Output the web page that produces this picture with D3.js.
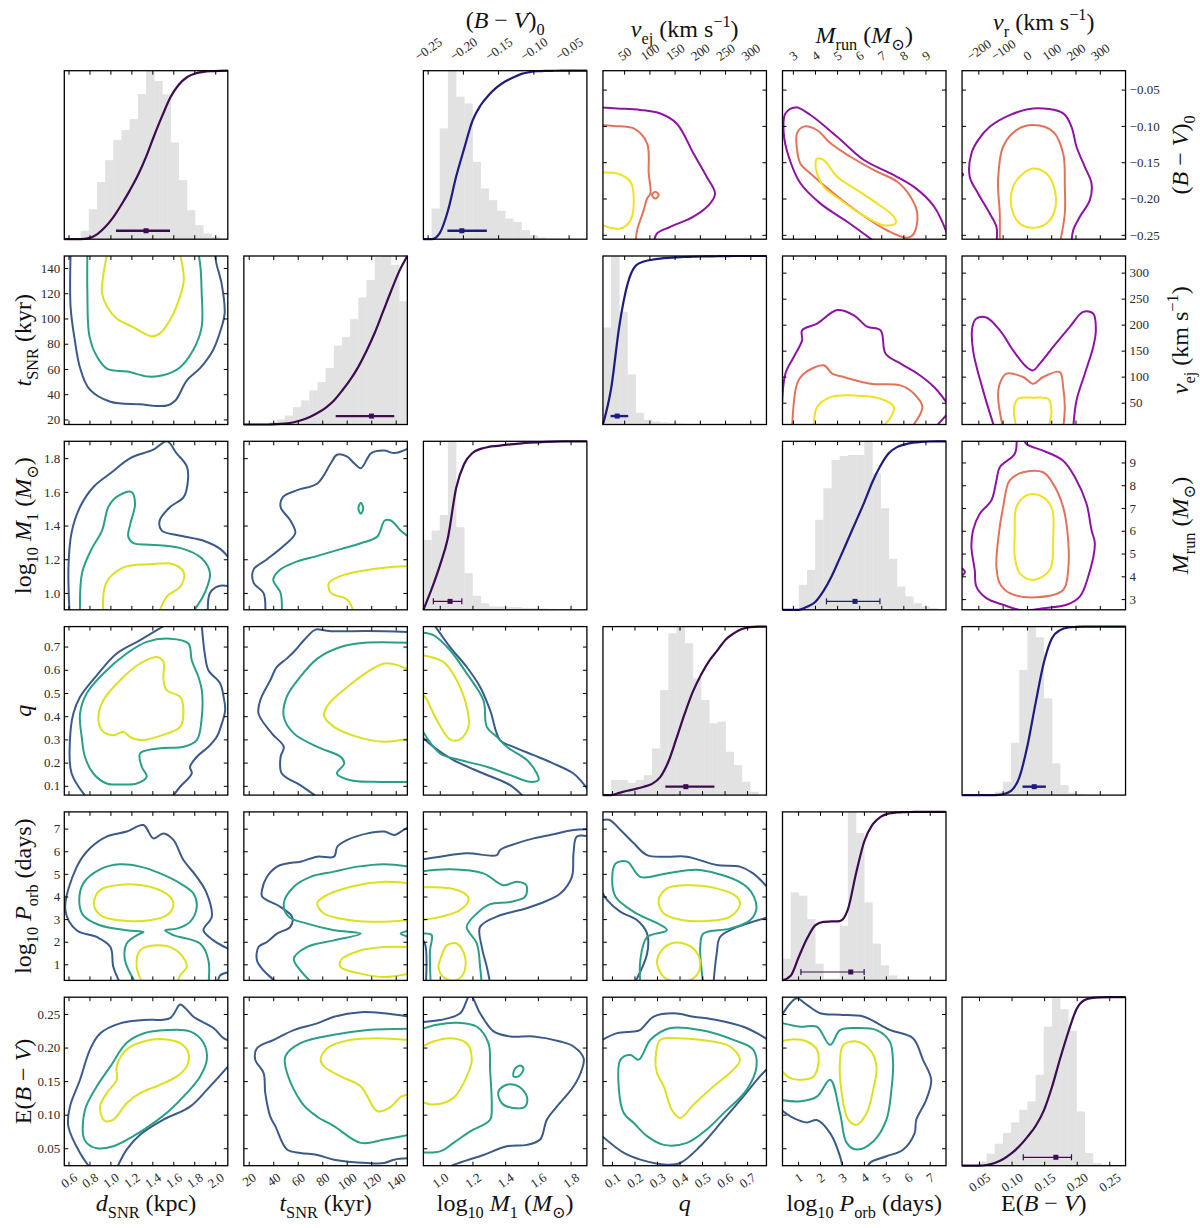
<!DOCTYPE html>
<html>
<head>
<meta charset="utf-8">
<script src="https://cdn.jsdelivr.net/npm/d3@7"></script>
<style>
  body { margin: 0; background: #fff; }
  svg { font-family: 'Liberation Serif', 'DejaVu Serif', serif; }
</style>
</head>
<body>
<svg id="corner" width="1200" height="1228"></svg>
<script>
// variables: 0 dSNR, 1 tSNR, 2 log M1, 3 q, 4 log Porb, 5 E(B-V), 6 (B-V)0, 7 v_ej, 8 M_run, 9 v_r
const domains = [[0.56, 2.12], [16, 149.5], [0.9, 1.9], [0.06, 0.786], [0.29, 7.74], [0.024, 0.275],
  [-0.256, -0.024], [8, 332], [2.53, 9.93], [-267, 406]]

const ticksD = [0.6, 0.8, 1.0, 1.2, 1.4, 1.6, 1.8, 2.0]
const ticksT = [20, 40, 60, 80, 100, 120, 140]
const ticksM = [1.0, 1.2, 1.4, 1.6, 1.8]
const ticksQ = [0.1, 0.2, 0.3, 0.4, 0.5, 0.6, 0.7]
const ticksP = [1, 2, 3, 4, 5, 6, 7]
const ticksE = [0.05, 0.10, 0.15, 0.20, 0.25]
const ticksBV = [-0.25, -0.20, -0.15, -0.10, -0.05]
const ticksVej = [50, 100, 150, 200, 250, 300]
const ticksMrun = [3, 4, 5, 6, 7, 8, 9]
const ticksVr = [-200, -100, 0, 100, 200, 300]
const tickLists = [ticksD, ticksT, ticksM, ticksQ, ticksP, ticksE, ticksBV, ticksVej, ticksMrun, ticksVr]
const tickFormats = ['.1f', 'd', '.1f', '.1f', 'd', '.2f', '.2f', 'd', 'd', 'd']

// axis label pieces: [text, kind] kind: '' normal, 'i' italic, 'sub', 'sup'
const labelD = [['d', 'i'], ['SNR', 'sub'], [' (kpc)', '']]
const labelT = [['t', 'i'], ['SNR', 'sub'], [' (kyr)', '']]
const labelM = [['log', ''], ['10', 'sub'], [' ', ''], ['M', 'i'], ['1', 'sub'], [' (', ''], ['M', 'i'], ['⊙', 'sub'], [')', '']]
const labelQ = [['q', 'i']]
const labelP = [['log', ''], ['10', 'sub'], [' ', ''], ['P', 'i'], ['orb', 'sub'], [' (days)', '']]
const labelE = [['E(', ''], ['B', 'i'], [' − ', ''], ['V', 'i'], [')', '']]
const labelBV = [['(', ''], ['B', 'i'], [' − ', ''], ['V', 'i'], [')', ''], ['0', 'sub']]
const labelVej = [['v', 'i'], ['ej', 'sub'], [' (km s', ''], ['−1', 'sup'], [')', '']]
const labelMrun = [['M', 'i'], ['run', 'sub'], [' (', ''], ['M', 'i'], ['⊙', 'sub'], [')', '']]
const labelVr = [['v', 'i'], ['r', 'sub'], [' (km s', ''], ['−1', 'sup'], [')', '']]
const labels = [labelD, labelT, labelM, labelQ, labelP, labelE, labelBV, labelVej, labelMrun, labelVr]

// histogram counts (20 bins spanning each axis range)
const histD = [0, 0, 25, 90, 171, 237, 297, 327, 360, 435, 505, 474, 434, 290, 177, 87, 42, 17, 7, 2]
const histT = [0, 0, 0, 7, 15, 27, 52, 72, 102, 127, 169, 236, 262, 315, 380, 432, 500, 504, 477, 369]
const histM = [210, 238, 285, 506, 248, 110, 42, 20, 10, 10, 8, 8, 6, 5, 4, 3, 2, 1, 0, 0]
const histQ = [0, 45, 45, 37, 45, 60, 140, 315, 485, 505, 455, 350, 285, 215, 220, 130, 90, 40, 10, 0]
const histP = [65, 263, 253, 183, 50, 5, 5, 163, 503, 440, 233, 110, 45, 15, 5, 2, 1, 0, 0, 0]
const histE = [0, 0, 13, 36, 66, 98, 130, 168, 193, 273, 418, 506, 470, 405, 163, 38, 8, 3, 0, 0]
const histBV = [0, 92, 332, 505, 427, 407, 232, 152, 117, 85, 62, 52, 27, 12, 5, 2, 1, 0, 0, 0]
const histVej = [290, 504, 337, 150, 34, 14, 9, 6, 4, 3, 2, 2, 1, 1, 1, 1, 0, 0, 0, 0]
const histMrun = [0, 0, 75, 120, 270, 365, 450, 462, 465, 465, 506, 410, 305, 153, 70, 40, 20, 10, 5, 0]
const histVr = [0, 0, 0, 0, 10, 40, 157, 375, 505, 473, 290, 95, 30, 7, 3, 1, 0, 0, 0, 0]

// median and 68% interval [lo, mid, hi]
const errD = [1.053, 1.34, 1.569]
const errT = [91, 120.2, 138.8]
const errM = [0.961, 1.063, 1.135]
const errQ = [0.337, 0.428, 0.555]
const errP = [1.13, 3.40, 4.01]
const errE = [0.118, 0.168, 0.192]
const errBV = [-0.222, -0.2015, -0.166]
const errVej = [23.1, 36.3, 58]
const errMrun = [4.52, 5.81, 6.94]
const errVr = [-18, 30, 78]

// contour lines: [level (0 outer,1 middle,2 inner), closed, points [x, y]]
const cont_1_0 = [
  [0, 0, [[0.62, 152], [0.62, 109], [0.66, 83], [0.71, 61], [0.80, 44], [1.0, 34], [1.28, 32], [1.54, 31], [1.62, 35], [1.73, 51], [1.86, 61], [1.98, 75], [2.06, 93], [2.09, 104], [2.06, 128], [2.01, 144], [2.0, 152]]],
  [1, 0, [[0.78, 152], [0.78, 122], [0.80, 86], [0.87, 70], [0.97, 60], [1.16, 58], [1.36, 54], [1.5, 55], [1.66, 61], [1.79, 75], [1.87, 93], [1.87, 122], [1.86, 140], [1.84, 152]]],
  [2, 0, [[0.97, 152], [0.93, 133], [0.92, 120], [0.97, 109], [1.06, 100], [1.22, 93], [1.39, 86], [1.47, 88], [1.57, 99], [1.65, 114], [1.70, 130], [1.68, 145], [1.66, 152]]]
]
const cont_2_0 = [
  [0, 0, [[0.61, 0.88], [0.60, 1.16], [0.63, 1.36], [0.71, 1.51], [0.84, 1.63], [1.0, 1.71], [1.19, 1.80], [1.41, 1.85], [1.54, 1.90], [1.63, 1.83], [1.73, 1.75], [1.74, 1.67], [1.70, 1.57], [1.57, 1.51], [1.47, 1.43], [1.49, 1.37], [1.67, 1.34], [1.89, 1.31], [2.05, 1.26], [2.14, 1.2]]],
  [0, 0, [[1.93, 0.88], [1.95, 1.0], [2.03, 1.04], [2.14, 1.04]]],
  [1, 0, [[0.71, 0.88], [0.73, 1.12], [0.82, 1.26], [0.92, 1.37], [0.98, 1.51], [1.06, 1.57], [1.2, 1.60], [1.235, 1.53], [1.19, 1.41], [1.17, 1.335], [1.22, 1.295], [1.38, 1.286], [1.67, 1.266], [1.87, 1.206], [1.95, 1.118], [1.90, 1.0], [1.78, 0.88]]],
  [2, 0, [[0.93, 0.88], [0.96, 1.06], [1.12, 1.15], [1.38, 1.17], [1.6, 1.17], [1.70, 1.12], [1.67, 1.04], [1.54, 0.98], [1.46, 0.88]]]
]
const cont_2_1 = [
  [0, 0, [[33.5, 0.88], [32, 1.0], [24, 1.06], [24, 1.14], [35, 1.2], [48.6, 1.28], [58, 1.355], [54, 1.43], [46, 1.51], [48, 1.57], [59.5, 1.61], [76, 1.65], [87, 1.77], [92, 1.82], [100, 1.81], [106, 1.77], [111.5, 1.74], [117, 1.8], [120, 1.83], [130.6, 1.845], [139, 1.83], [151, 1.86]]],
  [1, 0, [[47, 0.88], [46, 1.0], [40, 1.08], [46, 1.14], [57, 1.18], [76, 1.22], [95, 1.26], [111.5, 1.295], [125, 1.335], [131, 1.43], [136, 1.43], [144, 1.37], [151, 1.33]]],
  [1, 1, [[109.5, 1.503], [111.5, 1.535], [113.5, 1.503], [111.5, 1.47]]],
  [2, 0, [[106, 0.88], [100.5, 0.96], [87, 1.0], [85.5, 1.06], [95, 1.10], [111.5, 1.13], [130.6, 1.15], [151, 1.16]]]
]
const cont_3_0 = [
  [0, 0, [[0.79, 0.04], [0.63, 0.153], [0.614, 0.297], [0.646, 0.411], [0.71, 0.483], [0.87, 0.576], [1.06, 0.67], [1.28, 0.727], [1.55, 0.8]]],
  [0, 0, [[1.87, 0.8], [1.90, 0.67], [1.935, 0.598], [2.047, 0.541], [2.08, 0.483], [2.095, 0.426], [2.063, 0.368], [2.015, 0.311], [1.935, 0.268], [1.824, 0.225], [1.76, 0.182], [1.776, 0.153], [1.665, 0.096], [1.57, 0.04]]],
  [1, 1, [[0.726, 0.311], [0.71, 0.411], [0.773, 0.498], [0.933, 0.584], [1.155, 0.67], [1.346, 0.72], [1.569, 0.734], [1.744, 0.713], [1.776, 0.641], [1.84, 0.569], [1.872, 0.512], [1.872, 0.397], [1.824, 0.297], [1.697, 0.268], [1.458, 0.261], [1.283, 0.239], [1.299, 0.182], [1.346, 0.139], [1.251, 0.11], [1.124, 0.106], [0.964, 0.11], [0.837, 0.153], [0.757, 0.225]]],
  [2, 1, [[0.885, 0.397], [0.933, 0.469], [1.092, 0.555], [1.283, 0.627], [1.442, 0.655], [1.506, 0.634], [1.506, 0.555], [1.537, 0.512], [1.665, 0.483], [1.697, 0.426], [1.665, 0.354], [1.537, 0.325], [1.283, 0.297], [1.187, 0.311], [1.124, 0.333], [1.028, 0.318], [0.917, 0.34]]]
]
const cont_3_1 = [
  [0, 0, [[79, 0.04], [62, 0.103], [47, 0.153], [46, 0.225], [48.6, 0.268], [39, 0.325], [28, 0.411], [29.4, 0.469], [37.6, 0.555], [43, 0.612], [51, 0.648], [58, 0.684], [65, 0.727], [74.5, 0.773], [81.4, 0.77], [89.6, 0.766], [117, 0.767], [151, 0.763]]],
  [1, 0, [[151, 0.117], [122, 0.117], [103, 0.124], [92, 0.153], [98, 0.196], [95, 0.225], [76, 0.268], [57, 0.325], [48.6, 0.397], [51, 0.483], [62, 0.569], [76, 0.648], [95, 0.698], [117, 0.717], [151, 0.716]]],
  [2, 0, [[151, 0.304], [130.6, 0.29], [108.7, 0.311], [89.6, 0.354], [81.4, 0.404], [85.5, 0.454], [100.5, 0.526], [117, 0.591], [130.6, 0.627], [141.6, 0.62], [151, 0.598]]]
]
const cont_3_2 = [
  [0, 0, [[0.96, 0.8], [1.063, 0.698], [1.165, 0.612], [1.247, 0.526], [1.308, 0.426], [1.369, 0.297], [1.451, 0.268], [1.574, 0.232], [1.696, 0.196], [1.818, 0.153], [1.869, 0.117], [1.92, 0.07]]],
  [0, 0, [[0.88, 0.32], [0.961, 0.268], [1.084, 0.211], [1.267, 0.153], [1.431, 0.103], [1.53, 0.04]]],
  [1, 0, [[0.88, 0.76], [0.961, 0.749], [1.063, 0.684], [1.165, 0.584], [1.267, 0.469], [1.288, 0.354], [1.349, 0.311], [1.41, 0.268], [1.533, 0.211], [1.594, 0.153], [1.604, 0.125], [1.553, 0.117], [1.431, 0.146], [1.288, 0.182], [1.124, 0.211], [1.002, 0.239], [0.88, 0.354]]],
  [2, 0, [[0.88, 0.665], [1.022, 0.634], [1.104, 0.555], [1.165, 0.44], [1.176, 0.354], [1.124, 0.3], [1.063, 0.3], [0.982, 0.383], [0.91, 0.483], [0.88, 0.5]]]
]
const cont_4_0 = [
  [0, 0, [[1.10, 0.1], [1.028, 0.88], [1.0, 1.77], [0.87, 2.21], [0.68, 2.5], [0.57, 3.4], [0.68, 5.32], [0.805, 6.13], [0.964, 6.65], [1.155, 6.87], [1.315, 7.16], [1.41, 6.57], [1.506, 6.79], [1.601, 6.5], [1.697, 5.61], [1.824, 4.87], [1.92, 4.13], [1.967, 3.1], [1.888, 2.51], [1.983, 2.06], [2.14, 1.65]]],
  [0, 0, [[2.02, 0.1], [2.047, 0.51], [2.14, 0.66]]],
  [1, 0, [[1.251, 0.1], [1.139, 1.18], [1.155, 1.92], [1.283, 2.36], [1.315, 2.43], [1.155, 2.508], [0.901, 2.73], [0.741, 3.17], [0.703, 3.76], [0.741, 4.58], [0.901, 5.2], [1.092, 5.42], [1.283, 5.32], [1.474, 5.02], [1.665, 4.58], [1.792, 4.13], [1.824, 3.54], [1.76, 2.88], [1.633, 2.58], [1.522, 2.5], [1.601, 2.29], [1.856, 1.92], [1.935, 1.18], [1.935, 0.1]]],
  [2, 1, [[0.843, 3.76], [0.901, 4.28], [1.124, 4.53], [1.378, 4.43], [1.569, 3.99], [1.601, 3.62], [1.537, 3.17], [1.378, 2.95], [1.155, 2.92], [0.933, 3.1], [0.853, 3.47]]],
  [2, 0, [[1.315, 0.1], [1.251, 0.88], [1.283, 1.62], [1.442, 1.84], [1.601, 1.7], [1.713, 1.18], [1.728, 0.88], [1.665, 0.51], [1.633, 0.1]]]
]
const cont_4_1 = [
  [0, 0, [[42, 0.1], [40.4, 0.29], [32, 0.73], [26.7, 1.18], [28, 1.77], [34.9, 1.99], [43.1, 2.36], [54, 2.66], [55.4, 3.1], [45.8, 3.54], [31, 3.99], [30.8, 4.28], [34.9, 4.87], [43.1, 5.32], [51.3, 5.46], [62.2, 5.54], [75.9, 5.76], [89.6, 5.76], [92.3, 6.2], [100.5, 6.5], [117, 6.79], [130.6, 6.87], [138.8, 6.72], [144.3, 6.87], [151, 7.1]]],
  [1, 0, [[151, 5.32], [130.6, 5.43], [108.7, 5.32], [89.6, 5.1], [70.4, 4.87], [56.8, 4.43], [48.6, 3.69], [52.7, 3.1], [67.7, 2.8], [89.6, 2.51], [111.5, 2.36], [89.6, 2.06], [67.7, 1.77], [56.8, 1.25], [62.2, 0.73], [73.2, 0.1]]],
  [1, 0, [[151, 2.5], [144, 2.36], [151, 2.2]]],
  [2, 0, [[151, 4.58], [130.6, 4.65], [103.3, 4.43], [81.4, 3.99], [75.9, 3.69], [81.4, 3.25], [103.3, 2.95], [130.6, 2.88], [151, 2.95]]],
  [2, 0, [[151, 1.77], [130.6, 1.77], [111.5, 1.62], [95.1, 1.18], [95.1, 0.88], [111.5, 0.59], [130.6, 0.44], [151, 0.59]]]
]
const cont_4_2 = [
  [0, 0, [[0.88, 5.63], [1.002, 5.76], [1.165, 5.91], [1.349, 5.83], [1.369, 6.06], [1.471, 6.35], [1.574, 6.57], [1.676, 6.72], [1.818, 6.94], [1.92, 6.97]]],
  [0, 0, [[1.92, 6.65], [1.839, 6.65], [1.818, 5.91], [1.808, 4.87], [1.737, 4.13], [1.614, 3.69], [1.492, 3.4], [1.369, 3.17], [1.247, 2.66], [1.257, 1.77], [1.288, 0.88], [1.31, 0.1]]],
  [0, 0, [[0.88, 2.2], [0.91, 1.9], [0.915, 0.1]]],
  [1, 0, [[0.88, 5.1], [1.063, 5.2], [1.267, 5.02], [1.39, 4.5], [1.471, 4.65], [1.529, 4.5], [1.522, 3.99], [1.431, 3.76], [1.308, 3.66], [1.227, 3.25], [1.165, 2.66], [1.227, 1.92], [1.247, 0.88], [1.257, 0.1]]],
  [1, 0, [[0.88, 2.35], [0.95, 2.3], [0.94, 1.6], [0.945, 0.1]]],
  [2, 0, [[0.88, 4.4], [1.063, 4.36], [1.165, 4.06], [1.176, 3.84], [1.124, 3.4], [1.002, 3.1], [0.88, 2.95]]],
  [2, 1, [[1.002, 1.18], [1.043, 1.84], [1.104, 1.92], [1.155, 1.33], [1.145, 0.59], [1.094, 0.29], [1.022, 0.44], [0.992, 0.88]]]
]
const cont_4_3 = [
  [0, 0, [[0.05, 7.35], [0.087, 7.39], [0.138, 6.94], [0.197, 6.35], [0.256, 5.83], [0.344, 5.76], [0.433, 5.76], [0.565, 5.39], [0.668, 5.32], [0.727, 5.02], [0.8, 4.3]]],
  [0, 0, [[0.05, 4.3], [0.079, 3.84], [0.138, 3.32], [0.212, 2.95], [0.256, 2.36], [0.256, 1.47], [0.197, 0.1]]],
  [0, 0, [[0.8, 3.1], [0.639, 2.58], [0.58, 2.21], [0.565, 1.47], [0.55, 0.1]]],
  [1, 0, [[0.226, 0.1], [0.226, 1.18], [0.256, 2.21], [0.344, 2.51], [0.197, 3.32], [0.116, 3.99], [0.101, 4.73], [0.116, 5.46], [0.168, 5.54], [0.226, 4.87], [0.344, 5.02], [0.492, 5.17], [0.698, 4.43], [0.742, 3.54], [0.713, 2.95], [0.624, 2.58], [0.506, 2.36], [0.492, 1.77], [0.506, 0.1]]],
  [2, 1, [[0.307, 3.84], [0.344, 4.36], [0.433, 4.5], [0.565, 4.36], [0.654, 3.99], [0.668, 3.62], [0.624, 3.1], [0.521, 2.92], [0.418, 2.95], [0.33, 3.25]]],
  [2, 1, [[0.3, 1.18], [0.344, 1.84], [0.403, 1.95], [0.469, 1.62], [0.492, 1.03], [0.469, 0.44], [0.403, 0.22], [0.33, 0.44]]]
]
const cont_5_0 = [
  [0, 0, [[0.86, 0.01], [0.71, 0.043], [0.598, 0.083], [0.614, 0.112], [0.71, 0.152], [0.805, 0.197], [0.901, 0.221], [1.092, 0.236], [1.315, 0.241], [1.569, 0.244], [1.665, 0.264], [1.713, 0.259], [1.792, 0.246], [1.983, 0.229], [2.079, 0.214], [2.14, 0.21]]],
  [0, 0, [[2.14, 0.175], [1.92, 0.137], [1.76, 0.112], [1.506, 0.0925], [1.283, 0.07], [1.155, 0.048], [1.03, 0.01]]],
  [1, 1, [[0.741, 0.068], [0.757, 0.107], [0.869, 0.142], [1.0, 0.172], [1.155, 0.207], [1.315, 0.221], [1.537, 0.226], [1.76, 0.224], [1.888, 0.207], [1.92, 0.182], [1.856, 0.157], [1.728, 0.132], [1.569, 0.107], [1.41, 0.0875], [1.219, 0.068], [1.028, 0.053], [0.869, 0.05], [0.773, 0.058]]],
  [2, 1, [[0.933, 0.0925], [0.901, 0.112], [0.964, 0.132], [1.06, 0.152], [1.06, 0.172], [1.155, 0.197], [1.315, 0.209], [1.506, 0.2125], [1.665, 0.2065], [1.744, 0.192], [1.728, 0.172], [1.633, 0.157], [1.474, 0.1446], [1.283, 0.132], [1.155, 0.117], [1.028, 0.0925], [0.964, 0.09]]]
]
const cont_5_1 = [
  [0, 0, [[151, 0.246], [130.6, 0.251], [111.5, 0.2527], [89.6, 0.246], [75.9, 0.236], [56.8, 0.226], [40.4, 0.2115], [26.7, 0.199], [25.3, 0.182], [32.1, 0.162], [33.5, 0.132], [37.6, 0.097], [41.7, 0.083], [51.3, 0.048], [62.2, 0.043], [75.9, 0.04], [89.6, 0.033], [117, 0.028], [130.6, 0.028], [138.8, 0.033], [151, 0.035]]],
  [1, 0, [[151, 0.228], [117, 0.226], [89.6, 0.219], [62.2, 0.2065], [49.9, 0.187], [51.3, 0.162], [63.6, 0.117], [75.9, 0.097], [89.6, 0.083], [111.5, 0.058], [130.6, 0.063], [151, 0.07]]],
  [2, 0, [[151, 0.211], [125.2, 0.214], [103.3, 0.2115], [84.1, 0.199], [78.7, 0.182], [81.4, 0.172], [95.1, 0.157], [111.5, 0.142], [125.2, 0.105], [136.1, 0.112], [144.3, 0.127], [151, 0.13]]]
]
const cont_5_2 = [
  [0, 0, [[0.88, 0.238], [1.002, 0.241], [1.125, 0.251], [1.186, 0.278], [1.247, 0.251], [1.329, 0.224], [1.431, 0.2165], [1.574, 0.2165], [1.737, 0.209], [1.818, 0.2016], [1.88, 0.184], [1.869, 0.167], [1.818, 0.142], [1.716, 0.112], [1.655, 0.0925], [1.614, 0.063], [1.533, 0.055], [1.41, 0.053], [1.267, 0.04], [1.084, 0.025], [1.0, 0.015]]],
  [1, 0, [[0.88, 0.227], [0.982, 0.234], [1.104, 0.237], [1.227, 0.231], [1.298, 0.2065], [1.308, 0.167], [1.318, 0.112], [1.308, 0.0925], [1.186, 0.075], [1.084, 0.058], [1.002, 0.0453], [0.88, 0.044]]],
  [1, 1, [[1.359, 0.1346], [1.41, 0.1445], [1.482, 0.142], [1.533, 0.127], [1.523, 0.112], [1.451, 0.11], [1.38, 0.117]]],
  [1, 1, [[1.451, 0.157], [1.461, 0.169], [1.496, 0.173], [1.512, 0.168], [1.482, 0.157]]],
  [2, 0, [[0.88, 0.2], [0.961, 0.209], [1.063, 0.214], [1.165, 0.2065], [1.196, 0.182], [1.165, 0.157], [1.084, 0.125], [0.961, 0.115], [0.88, 0.12]]]
]
const cont_5_3 = [
  [0, 0, [[0.05, 0.21], [0.123, 0.2215], [0.197, 0.224], [0.226, 0.2264], [0.285, 0.246], [0.374, 0.251], [0.462, 0.246], [0.565, 0.241], [0.683, 0.231], [0.757, 0.219], [0.8, 0.21]]],
  [0, 0, [[0.05, 0.07], [0.153, 0.043], [0.226, 0.033], [0.344, 0.0255], [0.403, 0.028], [0.492, 0.053], [0.595, 0.0925], [0.683, 0.127], [0.757, 0.157], [0.8, 0.172]]],
  [1, 1, [[0.131, 0.137], [0.138, 0.182], [0.182, 0.189], [0.219, 0.182], [0.271, 0.2115], [0.359, 0.229], [0.492, 0.226], [0.639, 0.2115], [0.727, 0.197], [0.742, 0.172], [0.698, 0.137], [0.595, 0.102], [0.521, 0.078], [0.433, 0.058], [0.33, 0.055], [0.256, 0.068], [0.197, 0.0875], [0.153, 0.102]]],
  [2, 1, [[0.293, 0.182], [0.315, 0.2115], [0.388, 0.214], [0.492, 0.2115], [0.624, 0.2016], [0.668, 0.182], [0.639, 0.167], [0.55, 0.142], [0.462, 0.115], [0.403, 0.095], [0.366, 0.107], [0.33, 0.142], [0.3, 0.162]]]
]
const cont_5_4 = [
  [0, 0, [[0.2, 0.245], [0.647, 0.266], [0.949, 0.2735], [1.402, 0.2636], [2.006, 0.2512], [2.912, 0.2487], [3.969, 0.2462], [5.177, 0.2264], [6.234, 0.214], [6.687, 0.182], [7.065, 0.152], [6.838, 0.122], [6.385, 0.0925], [6.31, 0.0726], [5.781, 0.0478], [5.026, 0.038], [4.27, 0.028], [4.12, 0.015]]],
  [0, 0, [[0.2, 0.108], [0.798, 0.095], [1.402, 0.0885], [1.855, 0.092], [2.459, 0.0726], [2.912, 0.0379], [3.063, 0.015]]],
  [1, 0, [[0.2, 0.237], [1.1, 0.231], [1.855, 0.231], [2.459, 0.204], [2.912, 0.226], [3.667, 0.229], [4.573, 0.226], [5.177, 0.209], [5.328, 0.177], [5.253, 0.137], [5.026, 0.0925], [4.422, 0.06], [3.667, 0.048], [3.214, 0.058], [2.912, 0.102], [2.459, 0.152], [1.855, 0.127], [1.1, 0.12], [0.2, 0.122]]],
  [2, 0, [[0.2, 0.209], [0.798, 0.2125], [1.402, 0.209], [1.855, 0.197], [1.93, 0.177], [1.704, 0.157], [1.1, 0.152], [0.647, 0.1545], [0.2, 0.167]]],
  [2, 1, [[2.912, 0.182], [3.063, 0.204], [3.667, 0.209], [4.27, 0.197], [4.573, 0.172], [4.422, 0.137], [4.12, 0.102], [3.667, 0.085], [3.29, 0.0925], [2.988, 0.132]]]
]
// upper triangle
const cont_0_3 = [
  [0, 0, [[0, -0.0745], [36.3, -0.076], [82.2, -0.078], [121.7, -0.083], [154.5, -0.097], [187.4, -0.138], [213.6, -0.17], [230.1, -0.193], [220.2, -0.207], [187.4, -0.225], [141.4, -0.239], [115.1, -0.248], [108.5, -0.262]]],
  [1, 0, [[0, -0.099], [29.7, -0.1], [69.1, -0.1035], [95.4, -0.124], [98.7, -0.1655], [102, -0.193], [95.4, -0.2], [88.8, -0.216], [75.7, -0.2436], [72.4, -0.262]]],
  [1, 1, [[105, -0.1953], [111.8, -0.1907], [118.4, -0.1953], [111.8, -0.2]]],
  [2, 0, [[0, -0.1646], [36.3, -0.1655], [62.5, -0.177], [69.1, -0.2022], [62.5, -0.2298], [42.8, -0.2413], [23.1, -0.2404], [0, -0.2344]]]
]
const cont_0_4 = [
  [0, 0, [[6.819, -0.262], [5.458, -0.232], [4.249, -0.207], [3.341, -0.179], [2.812, -0.1425], [2.585, -0.11], [2.661, -0.083], [3.115, -0.0745], [3.795, -0.085], [5.005, -0.115], [6.214, -0.147], [7.424, -0.1655], [8.482, -0.184], [9.389, -0.211], [10.0, -0.25]]],
  [1, 1, [[3.19, -0.133], [3.19, -0.11], [3.493, -0.101], [4.097, -0.106], [4.702, -0.124], [5.609, -0.1425], [6.668, -0.161], [7.726, -0.177], [8.331, -0.198], [8.633, -0.221], [8.482, -0.248], [8.18, -0.254], [7.273, -0.244], [6.063, -0.221], [4.853, -0.193], [3.795, -0.1655], [3.341, -0.152]]],
  [2, 1, [[4.022, -0.152], [4.097, -0.145], [4.4, -0.147], [5.005, -0.17], [5.912, -0.1885], [6.819, -0.207], [7.575, -0.225], [7.651, -0.234], [7.121, -0.237], [6.063, -0.221], [5.156, -0.202], [4.4, -0.184], [4.097, -0.1655]]]
]
const cont_0_5 = [
  [0, 0, [[-125.5, -0.262], [-125.5, -0.239], [-153, -0.2206], [-201, -0.193], [-235.4, -0.17], [-228.5, -0.138], [-201, -0.1196], [-153, -0.1012], [-70.6, -0.0851], [25.6, -0.0759], [149.2, -0.0828], [183.5, -0.1012], [204.1, -0.1287], [238.4, -0.1563], [265.9, -0.1793], [259, -0.2022], [217.8, -0.2252], [190.4, -0.2436], [183.5, -0.262]]],
  [0, 0, [[-275, -0.163], [-262, -0.167], [-275, -0.171]]],
  [1, 0, [[-111.8, -0.262], [-111.8, -0.2206], [-118.7, -0.1747], [-98, -0.1287], [-43.1, -0.1058], [25.6, -0.0989], [108, -0.1081], [149.2, -0.138], [156, -0.184], [156, -0.2206], [135.4, -0.262]]],
  [2, 1, [[-63.7, -0.2114], [-57, -0.1839], [-15.6, -0.1655], [25.6, -0.1586], [80.5, -0.1655], [114.8, -0.1885], [114.8, -0.216], [80.5, -0.2344], [25.6, -0.2404], [-29.4, -0.2344]]]
]
const cont_1_4 = [
  [0, 0, [[2.5, 35], [2.661, 105.7], [3.039, 137.8], [3.417, 170], [3.417, 189], [4.097, 202], [5.005, 228], [5.76, 218], [6.365, 196], [6.97, 189], [7.197, 144], [7.878, 125], [8.633, 106], [9.389, 80], [10, 48]]],
  [0, 0, [[9.389, 0], [10, 28.6]]],
  [1, 0, [[2.963, 0], [3.19, 86.4], [3.493, 105.7], [4.4, 121.8], [4.778, 105.7], [5.307, 99.3], [6.517, 86.4], [7.878, 83.2], [8.482, 67.1], [8.86, 41.4], [8.331, 0]]],
  [2, 0, [[3.946, 0], [4.097, 41.4], [4.702, 60.7], [5.76, 64], [6.97, 57.5], [7.575, 41.4], [7.424, 22], [6.97, 0]]]
]
const cont_1_5 = [
  [0, 0, [[-132.4, 0], [-180.5, 73.6], [-221.7, 150.7], [-224.4, 195.7], [-208, 211.8], [-166.7, 213.7], [-111.8, 189.3], [-56.9, 150.7], [-1.9, 118.6], [25.6, 112.1], [53, 125], [108, 157.1], [176.6, 195.7], [231.6, 224.6], [272.8, 221.4], [283.8, 189.3], [272.8, 157.1], [238.4, 105.7], [204.1, 54.3], [190.4, 0]]],
  [1, 0, [[-98, 0], [-118.7, 60.7], [-111.8, 86.4], [-84.3, 105.7], [-15.6, 99.3], [25.6, 86.4], [66.8, 99.3], [135.4, 108.9], [149.2, 80], [156, 41.4], [149.2, 0]]],
  [2, 0, [[-43.1, 0], [-52.7, 41.4], [-36.3, 57.5], [25.6, 59.4], [87.4, 57.5], [101.1, 35], [87.4, 0]]]
]
const cont_2_5 = [
  [0, 0, [[-43.1, 10.1], [-50, 9.38], [-111.8, 8.79], [-125.5, 8.21], [-146.1, 7.34], [-194.2, 6.75], [-221.7, 6.02], [-228.5, 5.3], [-214.8, 4.28], [-208, 3.55], [-166.7, 3.04], [-98, 2.75], [-15.6, 2.5], [66.8, 2.6], [163, 2.75], [217.8, 3.11], [252.2, 3.98], [279.7, 5.44], [266, 6.02], [245.3, 7.19], [197.2, 8.36], [149.2, 9.08], [66.8, 9.52], [-1.9, 9.81], [-15.6, 10.1]]],
  [0, 0, [[-275, 4.4], [-255, 4.2], [-275, 3.95]]],
  [1, 1, [[-125.5, 4.42], [-118.7, 5.59], [-98, 7.04], [-70.6, 8.21], [-15.6, 8.57], [66.8, 8.57], [108, 8.06], [149.2, 7.04], [169.8, 5.59], [169.8, 4.28], [149.2, 3.4], [39.3, 3.08], [-70.6, 3.26], [-111.8, 3.69]]],
  [2, 1, [[-50, 5.88], [-43.1, 7.04], [-1.9, 7.55], [53, 7.55], [101.1, 7.04], [108, 5.59], [94.2, 4.28], [25.6, 3.84], [-29.4, 4.13], [-50, 4.86]]]
]

/// layout ////////////////////////////////
const PW = 163.5
const PH = 168.5
const panelX = c => 64.3 + c * 179.55
const panelY = r => 70.7 + r * 185.3

const lowerColors = ['#3a5a8b', '#2a9f87', '#dbe11f']
const upperColors = ['#8d14a3', '#e2735b', '#f1e120']
const lowerCdf = '#3d0c50'
const upperCdf = '#1d1c80'
const histFill = '#e2e2e2'

const svg = d3.select('#corner')

function richText(parent, parts, size) {
  const t = parent.append('text').attr('font-size', size).attr('fill', '#111')
  let shift = 0
  parts.forEach(([s, k]) => {
    const sp = t.append('tspan').text(s)
    let target = 0
    if (k === 'sub') target = size * 0.3
    if (k === 'sup') target = -size * 0.4
    if (k === 'i') sp.attr('font-style', 'italic')
    if (k === 'sub' || k === 'sup') sp.attr('font-size', size * 0.68)
    if (target - shift !== 0) sp.attr('dy', target - shift)
    shift = target
  })
  return t
}

function rotateTicks(axisG, side) {
  const angle = -35
  const a = Math.abs(angle) * Math.PI / 180
  axisG.selectAll('.tick text').each(function () {
    const w = this.getComputedTextLength()
    const H = w * Math.sin(a) + 10 * Math.cos(a)
    const cy = side === 'bottom' ? 6 + H / 2 : -(9 + H / 2)
    d3.select(this)
      .attr('x', 0)
      .attr('y', 0)
      .attr('dy', '0.35em')
      .attr('text-anchor', 'middle')
      .attr('transform', `translate(0,${cy}) rotate(${angle})`)
  })
}

function addAxis(g, scale, side, v, labelled) {
  const maker = { bottom: d3.axisBottom, top: d3.axisTop, left: d3.axisLeft, right: d3.axisRight }[side]
  const ax = maker(scale)
    .tickValues(tickLists[v])
    .tickSizeInner(-4)
    .tickSizeOuter(0)
    .tickPadding(4)
    .tickFormat(labelled ? d3.format(tickFormats[v]) : '')
  const ag = g.append('g').attr('class', 'axis')
  if (side === 'bottom') ag.attr('transform', `translate(0,${PH})`)
  if (side === 'right') ag.attr('transform', `translate(${PW},0)`)
  ag.call(ax).call(s => s.select('.domain').remove())
  ag.selectAll('.tick line').attr('stroke', '#000').attr('stroke-width', 1)
  ag.selectAll('.tick text').attr('font-size', 13).attr('fill', '#2a2a2a')
    .attr('font-family', "'Liberation Serif', 'DejaVu Serif', serif")
  if (labelled && (side === 'bottom' || side === 'top')) rotateTicks(ag, side)
  return ag
}

function frame(g) {
  g.append('rect').attr('width', PW).attr('height', PH)
    .attr('fill', 'none').attr('stroke', '#000').attr('stroke-width', 1.3)
}

function axesFor(g, x, y, xv, yv, r, c, hist) {
  addAxis(g, x, 'bottom', xv, r === 5)
  addAxis(g, x, 'top', xv, r === 0 && c >= 2)
  if (!hist) {
    addAxis(g, y, 'left', yv, c === 0)
    addAxis(g, y, 'right', yv, c === 5)
  }
}

function drawContours(r, c, xv, yv, lines, colors) {
  const g = svg.append('g').attr('transform', `translate(${panelX(c)},${panelY(r)})`)
  const x = d3.scaleLinear().domain(domains[xv]).range([0, PW])
  const y = d3.scaleLinear().domain(domains[yv]).range([PH, 0])
  const id = `clip-${r}-${c}`
  g.append('clipPath').attr('id', id).append('rect').attr('width', PW).attr('height', PH)
  const body = g.append('g').attr('clip-path', `url(#${id})`)
  lines.forEach(([lev, closed, pts]) => {
    const line = d3.line()
      .x(d => x(d[0]))
      .y(d => y(d[1]))
      .curve(closed ? d3.curveCatmullRomClosed.alpha(0.5) : d3.curveCatmullRom.alpha(0.5))
    body.append('path')
      .attr('d', line(pts))
      .attr('fill', 'none')
      .attr('stroke', colors[lev])
      .attr('stroke-width', 2)
      .attr('stroke-linejoin', 'round')
  })
  axesFor(g, x, y, xv, yv, r, c, false)
  frame(g)
}

function drawHist(r, c, v, counts, err, color, thin) {
  const g = svg.append('g').attr('transform', `translate(${panelX(c)},${panelY(r)})`)
  const [d0, d1] = domains[v]
  const x = d3.scaleLinear().domain(domains[v]).range([0, PW])
  const yh = d3.scaleLinear().domain([0, d3.max(counts)]).range([PH, 0])
  const yc = d3.scaleLinear().domain([0, 1]).range([PH, 0])
  const bw = (d1 - d0) / counts.length

  g.selectAll('rect.bar')
    .data(counts)
    .join('rect')
    .attr('class', 'bar')
    .attr('x', (d, i) => x(d0 + i * bw))
    .attr('width', (d, i) => x(d0 + (i + 1) * bw) - x(d0 + i * bw) + 0.3)
    .attr('y', d => yh(d))
    .attr('height', d => PH - yh(d))
    .attr('fill', histFill)

  // cumulative distribution from the same counts
  const total = d3.sum(counts)
  const cum = Array.from(d3.cumsum(counts))
  const pts = [[d0, 0]].concat(cum.map((s, i) => [d0 + (i + 1) * bw, s / total]))
  g.append('path')
    .datum(pts)
    .attr('d', d3.line().x(d => x(d[0])).y(d => yc(d[1])).curve(d3.curveMonotoneX))
    .attr('fill', 'none')
    .attr('stroke', color)
    .attr('stroke-width', 2.2)

  // median with 68% interval
  const ey = yc(0.05)
  g.append('line')
    .attr('x1', x(err[0])).attr('x2', x(err[2]))
    .attr('y1', ey).attr('y2', ey)
    .attr('stroke', color).attr('stroke-width', thin ? 1.2 : 2.4)
  if (thin) {
    g.selectAll('line.cap')
      .data([err[0], err[2]])
      .join('line')
      .attr('class', 'cap')
      .attr('x1', d => x(d)).attr('x2', d => x(d))
      .attr('y1', ey - 3).attr('y2', ey + 3)
      .attr('stroke', color).attr('stroke-width', 1.2)
  }
  g.append('rect')
    .attr('x', x(err[1]) - 2.5).attr('y', ey - 2.5)
    .attr('width', 5).attr('height', 5)
    .attr('fill', color)

  axesFor(g, x, null, v, v, r, c, true)
  frame(g)
}

/// panels ////////////////////////////////
const lowerPanels = [
  [1, 0, cont_1_0], [2, 0, cont_2_0], [2, 1, cont_2_1],
  [3, 0, cont_3_0], [3, 1, cont_3_1], [3, 2, cont_3_2],
  [4, 0, cont_4_0], [4, 1, cont_4_1], [4, 2, cont_4_2], [4, 3, cont_4_3],
  [5, 0, cont_5_0], [5, 1, cont_5_1], [5, 2, cont_5_2], [5, 3, cont_5_3], [5, 4, cont_5_4]
]
lowerPanels.forEach(([r, c, lines]) => drawContours(r, c, c, r, lines, lowerColors))

const upperPanels = [
  [0, 3, 7, 6, cont_0_3], [0, 4, 8, 6, cont_0_4], [0, 5, 9, 6, cont_0_5],
  [1, 4, 8, 7, cont_1_4], [1, 5, 9, 7, cont_1_5], [2, 5, 9, 8, cont_2_5]
]
upperPanels.forEach(([r, c, xv, yv, lines]) => drawContours(r, c, xv, yv, lines, upperColors))

drawHist(0, 0, 0, histD, errD, lowerCdf, false)
drawHist(1, 1, 1, histT, errT, lowerCdf, false)
drawHist(2, 2, 2, histM, errM, lowerCdf, true)
drawHist(3, 3, 3, histQ, errQ, lowerCdf, false)
drawHist(4, 4, 4, histP, errP, lowerCdf, true)
drawHist(5, 5, 5, histE, errE, lowerCdf, true)
drawHist(0, 2, 6, histBV, errBV, upperCdf, false)
drawHist(1, 3, 7, histVej, errVej, upperCdf, false)
drawHist(2, 4, 8, histMrun, errMrun, upperCdf, true)
drawHist(3, 5, 9, histVr, errVr, upperCdf, false)

/// axis titles ////////////////////////////////
// bottom
d3.range(6).forEach(c => {
  richText(svg, labels[c], 24)
    .attr('x', panelX(c) + PW / 2)
    .attr('y', 1211)
    .attr('text-anchor', 'middle')
})
// left
d3.range(1, 6).forEach(r => {
  richText(svg, labels[r], 24)
    .attr('text-anchor', 'middle')
    .attr('transform', `translate(31,${panelY(r) + PH / 2}) rotate(-90)`)
})
// top
const topTitleY = [28, 37, 43, 30]
d3.range(4).forEach(i => {
  richText(svg, labels[6 + i], 24)
    .attr('x', panelX(2 + i) + PW / 2)
    .attr('y', topTitleY[i])
    .attr('text-anchor', 'middle')
})
// right
d3.range(3).forEach(r => {
  richText(svg, labels[6 + r], 24)
    .attr('text-anchor', 'middle')
    .attr('transform', `translate(1188,${panelY(r) + PH / 2}) rotate(-90)`)
})
</script>
</body>
</html>
